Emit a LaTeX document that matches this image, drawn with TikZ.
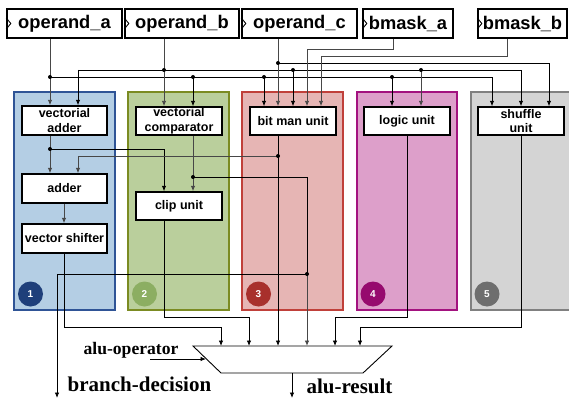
\documentclass[tikz,border=0pt]{standalone}
\usepackage{fontspec}
\setmainfont{Liberation Serif}
\newfontfamily\hv{Liberation Sans}
\usetikzlibrary{arrows.meta}
\definecolor{pblue}{HTML}{B4CEE4}\definecolor{pblueb}{HTML}{2F5496}\definecolor{cblue}{HTML}{1F3F7A}
\definecolor{pgreen}{HTML}{BACF9C}\definecolor{pgreenb}{HTML}{7B8B22}\definecolor{cgreen}{HTML}{8CAE62}
\definecolor{pred}{HTML}{E6B5B4}\definecolor{predb}{HTML}{C0403A}\definecolor{cred}{HTML}{A8302C}
\definecolor{pmag}{HTML}{DD9FCA}\definecolor{pmagb}{HTML}{A3127F}\definecolor{cmag}{HTML}{960A6E}
\definecolor{pgray}{HTML}{D4D4D4}\definecolor{pgrayb}{HTML}{808080}\definecolor{cgray}{HTML}{6E6E6E}
\begin{document}
\begin{tikzpicture}[x=1pt,y=-1pt,
  wire/.style={line width=0.85pt, draw=black},
  gwire/.style={line width=0.95pt, draw=black!72},
  arr/.style={-{Latex[length=5.5pt,width=4.5pt]}},
  dot/.style={circle, fill=black, inner sep=0pt, minimum size=4pt},
  topbox/.style={draw, line width=1.4pt, fill=white, minimum height=29pt, inner sep=0pt, font=\hv\bfseries\fontsize{18.3}{20}\selectfont},
  unit/.style={draw, line width=1.4pt, fill=white, minimum width=86pt, minimum height=29pt, inner sep=0pt, align=center, font=\hv\bfseries\fontsize{12.5}{14.5}\selectfont},
  panel/.style={line width=1.2pt},
  num/.style={circle, minimum size=25pt, inner sep=0pt, text=white, font=\hv\bfseries\fontsize{10}{10}\selectfont},
  lbl/.style={inner sep=0pt, font=\bfseries\fontsize{21}{22}\selectfont},
]
\useasboundingbox (0,0) rectangle (569,398);
% panels
\path[panel, fill=pblue, draw=pblueb] (14,92) rectangle (115,310);
\path[panel, fill=pgreen, draw=pgreenb] (128,92) rectangle (229,310);
\path[panel, fill=pred, draw=predb] (242,92) rectangle (343,310);
\path[panel, fill=pmag, draw=pmagb] (357,92) rectangle (457,310);
\path[panel, fill=pgray, draw=pgrayb] (471,92) rectangle (580,310);
\node[num, fill=cblue] (n1) at (30.5,294) {1};
\node[num, fill=cgreen] (n2) at (144.5,294) {2};
\node[num, fill=cred] (n3) at (258.5,294) {3};
\node[num, fill=cmag] (n4) at (373,294) {4};
\node[num, fill=cgray] (n5) at (487,294) {5};
% top boxes
\node[topbox, minimum width=115pt] (opa) at (64.5,23.5) {operand\_a};
\node[topbox, minimum width=114pt] (opb) at (182,23.5) {operand\_b};
\node[topbox, minimum width=115pt] (opc) at (299.5,23.5) {operand\_c};
\node[topbox, minimum width=90pt] (bma) at (408,23.5) {bmask\_a};
\node[topbox, minimum width=89pt] (bmb) at (522.5,23.5) {bmask\_b};
\foreach \n in {opa,opb,opc,bma,bmb}
  \draw[line width=0.9pt] (\n.west) ++(0,-5.5) -- ++(4.5,5.5) -- ++(-4.5,5.5);
% unit boxes
\node[unit, minimum width=85pt] (va) at (64.5,120.5) {vectorial\\adder};
\node[unit, minimum width=85pt] (adder) at (64.5,188.5) {adder};
\node[unit, minimum width=85pt] (vs) at (64.5,238.5) {vector shifter};
\node[unit, minimum height=28pt] (vc) at (179,121) {vectorial\\comparator};
\node[unit, minimum height=28pt] (clip) at (179,206) {clip unit};
\node[unit, minimum height=28pt] (bm) at (293,121) {bit man unit};
\node[unit, minimum height=28pt] (lu) at (407,121) {logic unit};
\node[unit, minimum height=28pt] (su) at (521,121) {shuffle\\unit};
% ALU
\coordinate (alutl) at (193,346); \coordinate (alutr) at (392,346);
\coordinate (alubr) at (363,373); \coordinate (alubl) at (221,373);
\draw[line width=0.9pt, fill=white] (alutl) -- (alutr) -- (alubr) -- (alubl) -- cycle;
% junction coordinates
\coordinate (a1) at (50,77); \coordinate (a2) at (193,77); \coordinate (a3) at (264,77);
\coordinate (a4) at (392,77); \coordinate (a5) at (492,77);
\coordinate (b0) at (78,70); \coordinate (b1) at (164,70); \coordinate (b2) at (293,70);
\coordinate (b3) at (421,70); \coordinate (b4) at (521,70);
\coordinate (c1) at (278,63); \coordinate (c2) at (549,63);
\coordinate (m1) at (393,49); \coordinate (m1e) at (307,49);
\coordinate (m2) at (507,56); \coordinate (m2e) at (321,56);
% operand_a bus
\draw[gwire] (opa.south -| a1) -- (a1);
\draw[gwire,arr] (a1) -- (va.north -| a1);
\draw[wire,arr] (a1) -- (a5) -- (su.north -| a5);
\draw[wire,arr] (a2) -- (vc.north -| a2);
\draw[wire,arr] (a3) -- (bm.north -| a3);
\draw[wire,arr] (a4) -- (lu.north -| a4);
% operand_b bus
\draw[gwire] (opb.south -| b1) -- (b1);
\draw[gwire,arr] (b1) -- (vc.north -| b1);
\draw[wire,arr] (b0) -- (b4) -- (su.north -| b4);
\draw[wire,arr] (b0) -- (va.north -| b0);
\draw[wire,arr] (b2) -- (bm.north -| b2);
\draw[gwire,arr] (b3) -- (lu.north -| b3);
% operand_c bus
\draw[gwire] (opc.south -| c1) -- (c1);
\draw[gwire,arr] (c1) -- (bm.north -| c1);
\draw[wire,arr] (c1) -- (c2) -- (su.north -| c2);
% bmask
\draw[gwire,arr] (bma.south -| m1) -- (m1) -- (m1e) -- (bm.north -| m1e);
\draw[gwire,arr] (bmb.south -| m2) -- (m2) -- (m2e) -- (bm.north -| m2e);
\foreach \p in {a1,a2,a3,a4,b1,b2,b3,c1} \node[dot] at (\p) {};
% internal wiring
\coordinate (d1) at (50,149); \coordinate (d1e) at (164,149);
\coordinate (d2) at (278,156); \coordinate (d2e) at (78,156);
\coordinate (d3) at (193,177); \coordinate (d3e) at (307,177);
\coordinate (d4) at (307,274); \coordinate (d4e) at (57,274); \coordinate (bd) at (57,398);
\coordinate (v1) at (64,327); \coordinate (v1e) at (221,327);
\coordinate (k1) at (164,317); \coordinate (k1e) at (249,317);
\coordinate (l1) at (407,317); \coordinate (l1e) at (335,317);
\coordinate (s1) at (521,327); \coordinate (s1e) at (360,327);
\draw[gwire,arr] (va.south -| d1) -- (adder.north -| d1);
\draw[wire,arr] (d1) -- (d1e) -- (clip.north -| d1e);
\draw[wire,arr] (bm.south -| d2) -- (alutl -| d2);
\draw[gwire,arr] (d2) -- (d2e) -- (adder.north -| d2e);
\draw[gwire,arr] (vc.south -| d3) -- (clip.north -| d3);
\draw[wire] (d3) -- (d3e) -- (d4);
\draw[gwire,arr] (d4) -- (alutl -| d4);
\draw[wire,arr] (d4) -- (d4e) -- (bd);
\draw[gwire,arr] (adder.south -| v1) -- (vs.north -| v1);
\draw[wire,arr] (vs.south -| v1) -- (v1) -- (v1e) -- (alutl -| v1e);
\draw[wire,arr] (clip.south -| k1) -- (k1) -- (k1e) -- (alutl -| k1e);
\draw[wire,arr] (lu.south -| l1) -- (l1) -- (l1e) -- (alutl -| l1e);
\draw[wire,arr] (su.south -| s1) -- (s1) -- (s1e) -- (alutl -| s1e);
\foreach \p in {d1,d2,d3,d4} \node[dot] at (\p) {};
% ALU output and operator
\coordinate (ao) at (292,373); \coordinate (aoe) at (292,398);
\draw[wire,arr] (ao) -- (aoe);
\coordinate (op0) at (150,359); \coordinate (op1) at (206,359);
\draw[wire,arr] (op0) -- (op1);
% labels
\node[inner sep=0pt, font=\bfseries\fontsize{17.6}{18}\selectfont] (aluop) at (131,350) {alu-operator};
\node[lbl] (brd) at (139.5,384) {branch-decision};
\node[lbl] (alur) at (349.5,386) {alu-result};
\end{tikzpicture}
\end{document}
